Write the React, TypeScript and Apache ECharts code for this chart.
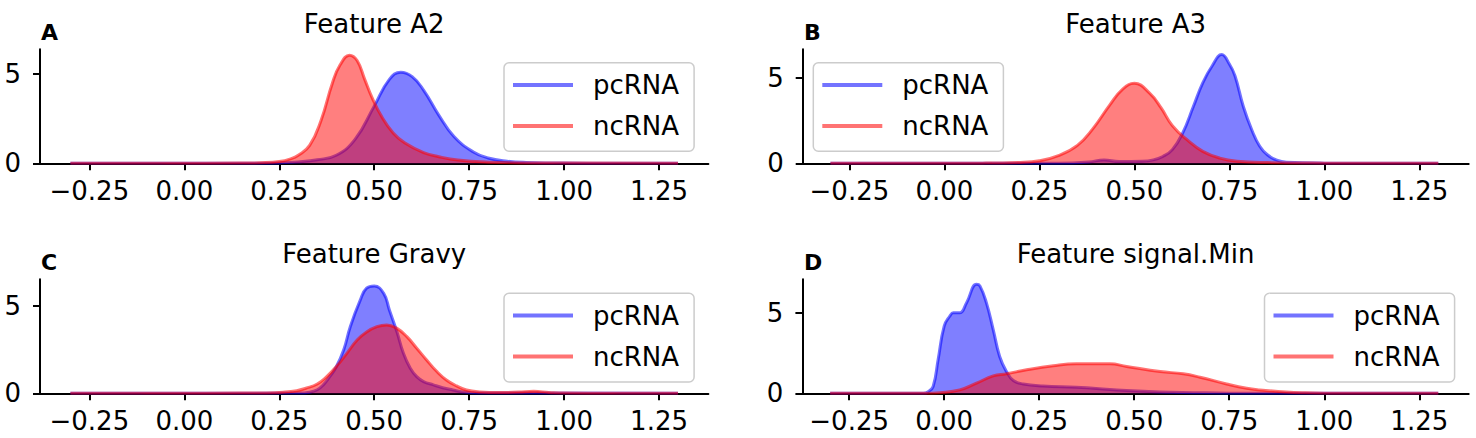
import React, { useEffect, useRef } from "react";
import * as echarts from "echarts";

// ---------- data ----------
const X_TICKS = [-0.25, 0, 0.25, 0.5, 0.75, 1.0, 1.25];
const Y_TICKS = [0, 5];
const SERIES_NAMES = ["pcRNA", "ncRNA"];
const TITLES = ["Feature A2", "Feature A3", "Feature Gravy", "Feature signal.Min"];
const LETTERS = ["A", "B", "C", "D"];
const Y_MAX = [6.38, 6.66, 6.5, 7.08];
const X_MIN = [-0.38, -0.373, -0.38, -0.373];
const X_MAX = [1.38, 1.38, 1.38, 1.38];

const a2Pc = [
  [-0.3, 0], [0.2, 0], [0.25, 0.02], [0.3, 0.08], [0.35, 0.2], [0.4, 0.45], [0.45, 1.35],
  [0.5, 3.2], [0.54, 4.7], [0.57, 5.1], [0.6, 4.85], [0.63, 4.1], [0.67, 2.7], [0.71, 1.5],
  [0.76, 0.65], [0.8, 0.3], [0.85, 0.12], [0.9, 0.05], [1.0, 0.01], [1.3, 0],
];
const a2Nc = [
  [-0.3, 0], [0.15, 0.01], [0.2, 0.03], [0.25, 0.1], [0.28, 0.25], [0.3, 0.45], [0.33, 1.0],
  [0.36, 2.4], [0.39, 4.5], [0.41, 5.5], [0.435, 6.05], [0.455, 5.75], [0.475, 4.7],
  [0.495, 3.65], [0.52, 2.6], [0.55, 1.7], [0.58, 1.15], [0.63, 0.6], [0.67, 0.37],
  [0.72, 0.18], [0.8, 0.06], [0.9, 0.02], [1.3, 0],
];
const a3Pc = [
  [-0.3, 0], [0.3, 0.01], [0.38, 0.08], [0.42, 0.2], [0.46, 0.1], [0.52, 0.12], [0.55, 0.2],
  [0.575, 0.4], [0.6, 0.8], [0.627, 1.76], [0.655, 3.3], [0.68, 4.7], [0.705, 5.7],
  [0.73, 6.35], [0.75, 5.8], [0.765, 5.1], [0.787, 3.3], [0.81, 1.9], [0.83, 1.0],
  [0.85, 0.5], [0.875, 0.18], [0.9, 0.06], [1.0, 0.01], [1.3, 0],
];
const a3Nc = [
  [-0.3, 0], [0.1, 0.01], [0.2, 0.05], [0.25, 0.15], [0.3, 0.45], [0.35, 1.05], [0.39, 2.0],
  [0.435, 3.4], [0.47, 4.35], [0.5, 4.67], [0.54, 4.1], [0.57, 3.25], [0.6, 2.2],
  [0.64, 1.35], [0.68, 0.7], [0.725, 0.3], [0.77, 0.12], [0.85, 0.04], [1.0, 0.01], [1.3, 0],
];
const gravyPc = [
  [-0.3, 0], [0.3, 0.01], [0.33, 0.06], [0.35, 0.2], [0.366, 0.48], [0.383, 0.95], [0.4, 1.5],
  [0.42, 2.5], [0.437, 3.8], [0.463, 5.3], [0.48, 6.0], [0.5, 6.12], [0.525, 5.7],
  [0.54, 4.75], [0.56, 3.5], [0.577, 2.28], [0.595, 1.43], [0.612, 0.95], [0.63, 0.67],
  [0.656, 0.48], [0.68, 0.32], [0.707, 0.19], [0.733, 0.08], [0.77, 0.02], [1.3, 0],
];
const gravyNc = [
  [-0.3, 0], [0.15, 0.01], [0.217, 0.02], [0.26, 0.06], [0.296, 0.15], [0.32, 0.29],
  [0.35, 0.53], [0.375, 0.95], [0.4, 1.52], [0.428, 2.28], [0.455, 3.04], [0.48, 3.5],
  [0.507, 3.8], [0.533, 3.9], [0.56, 3.7], [0.586, 3.23], [0.612, 2.57], [0.638, 1.9],
  [0.665, 1.24], [0.69, 0.76], [0.717, 0.42], [0.743, 0.19], [0.778, 0.08], [0.83, 0.04],
  [0.88, 0.07], [0.92, 0.11], [0.96, 0.05], [1.0, 0.01], [1.3, 0],
];
const sigPc = [
  [-0.3, 0], [-0.055, 0], [-0.042, 0.1], [-0.029, 0.42], [-0.016, 2.08], [0.0, 4.17],
  [0.015, 4.8], [0.024, 5.0], [0.041, 5.0], [0.059, 5.63], [0.085, 6.77], [0.094, 6.67],
  [0.111, 5.63], [0.129, 3.96], [0.146, 2.29], [0.164, 1.35], [0.182, 0.79], [0.208, 0.58],
  [0.26, 0.46], [0.348, 0.38], [0.392, 0.31], [0.48, 0.17], [0.568, 0.08], [0.655, 0.04],
  [0.75, 0.01], [1.3, 0],
];
const sigNc = [
  [-0.3, 0], [-0.05, 0], [-0.011, 0.04], [0.041, 0.21], [0.085, 0.63], [0.129, 1.08],
  [0.164, 1.21], [0.217, 1.46], [0.287, 1.71], [0.348, 1.83], [0.436, 1.83], [0.48, 1.67],
  [0.568, 1.35], [0.629, 1.21], [0.673, 1.0], [0.743, 0.58], [0.796, 0.31], [0.83, 0.21],
  [0.9, 0.08], [0.95, 0.03], [1.0, 0.01], [1.3, 0],
];
const PC_DATA = [a2Pc, a3Pc, gravyPc, sigPc];
const NC_DATA = [a2Nc, a3Nc, gravyNc, sigNc];

// ---------- layout ----------
const GRIDS = [
  { left: 40, top: 49.3, width: 668.4, height: 114 },
  { left: 802.7, top: 49.3, width: 666, height: 114 },
  { left: 40, top: 279.3, width: 668.4, height: 114 },
  { left: 802.4, top: 279.3, width: 666.3, height: 114 },
];
const LEGEND_POS = [
  { left: 504, top: 62.7 },
  { left: 813.3, top: 62.7 },
  { left: 504, top: 293.3 },
  { left: 1264.5, top: 293.3 },
];
const TITLE_TOP = [11, 11, 241, 241];
const LETTER_POS = [
  { left: 41, top: 21 },
  { left: 804, top: 21 },
  { left: 41, top: 251 },
  { left: 804, top: 251 },
];

const FONT = "DejaVu Sans";
const COLORS = ["#0000ff", "#ff0000"];

const fmtX = (v: number) => (v < 0 ? "\u2212" : "") + Math.abs(v).toFixed(2);

export default function App() {
  const ref = useRef<HTMLDivElement>(null);
  useEffect(() => {
    if (!ref.current) return;
    const chart = echarts.init(ref.current, null, { renderer: "svg" });

    const axisCommon = {
      axisLine: { show: true, onZero: false, lineStyle: { color: "#000", width: 2 } },
      axisTick: { show: true, length: 7, lineStyle: { color: "#000", width: 2 } },
      splitLine: { show: false },
    };

    const titles: any[] = [];
    TITLES.forEach((t, i) => {
      titles.push({
        text: t,
        left: GRIDS[i].left + GRIDS[i].width / 2,
        top: TITLE_TOP[i],
        textAlign: "center",
        padding: 0,
        textStyle: { fontFamily: FONT, fontSize: 26, fontWeight: "normal", color: "#000" },
      });
    });
    LETTERS.forEach((l, i) => {
      titles.push({
        text: l,
        left: LETTER_POS[i].left,
        top: LETTER_POS[i].top,
        padding: 0,
        textStyle: { fontFamily: FONT, fontSize: 22, fontWeight: "bold", color: "#000" },
      });
    });

    const series: any[] = [];
    for (let i = 0; i < 4; i++) {
      [PC_DATA[i], NC_DATA[i]].forEach((d, k) => {
        series.push({
          name: SERIES_NAMES[k],
          type: "line",
          xAxisIndex: i,
          yAxisIndex: i,
          data: d,
          symbol: "none",
          showSymbol: false,
          smooth: 0.45,
          itemStyle: { color: COLORS[k] },
          lineStyle: { color: COLORS[k], width: 3, opacity: 0.55 },
          areaStyle: { color: COLORS[k], opacity: 0.5, origin: "start" },
          z: 2 + k,
        });
      });
    }

    const option: any = {
      animation: false,
      backgroundColor: "#ffffff",
      title: titles,
      grid: GRIDS.map((g) => ({ ...g, containLabel: false })),
      xAxis: GRIDS.map((_, i) => ({
        type: "value",
        gridIndex: i,
        min: X_MIN[i],
        max: X_MAX[i],
        ...axisCommon,
        axisTick: { ...axisCommon.axisTick, customValues: X_TICKS },
        axisLabel: {
          customValues: X_TICKS,
          formatter: (v: number) => fmtX(v),
          fontFamily: FONT,
          fontSize: 26,
          color: "#000",
          margin: 15,
        },
      })),
      yAxis: GRIDS.map((_, i) => ({
        type: "value",
        gridIndex: i,
        min: 0,
        max: Y_MAX[i],
        ...axisCommon,
        axisTick: { ...axisCommon.axisTick, customValues: Y_TICKS },
        axisLabel: {
          customValues: Y_TICKS,
          formatter: (v: number) => String(v),
          fontFamily: FONT,
          fontSize: 26,
          color: "#000",
          margin: 19,
        },
      })),
      legend: LEGEND_POS.map((p) => ({
        data: SERIES_NAMES,
        orient: "vertical",
        left: p.left,
        top: p.top,
        icon: "rect",
        itemWidth: 60,
        itemHeight: 4,
        itemGap: 11,
        itemStyle: { opacity: 0.55 },
        padding: [7.3, 15, 10.3, 9],
        backgroundColor: "rgba(255,255,255,0.8)",
        borderColor: "#cccccc",
        borderWidth: 1.5,
        borderRadius: 5,
        selectedMode: false,
        textStyle: {
          fontFamily: FONT,
          fontSize: 26,
          color: "#000",
          lineHeight: 30,
          padding: [0, 0, 0, 15],
        },
      })),
      series,
    };
    chart.setOption(option);
    return () => chart.dispose();
  }, []);

  return (
    <div
      ref={ref}
      style={{ position: "fixed", left: 0, top: 0, width: 1476, height: 438, background: "#fff" }}
    />
  );
}
